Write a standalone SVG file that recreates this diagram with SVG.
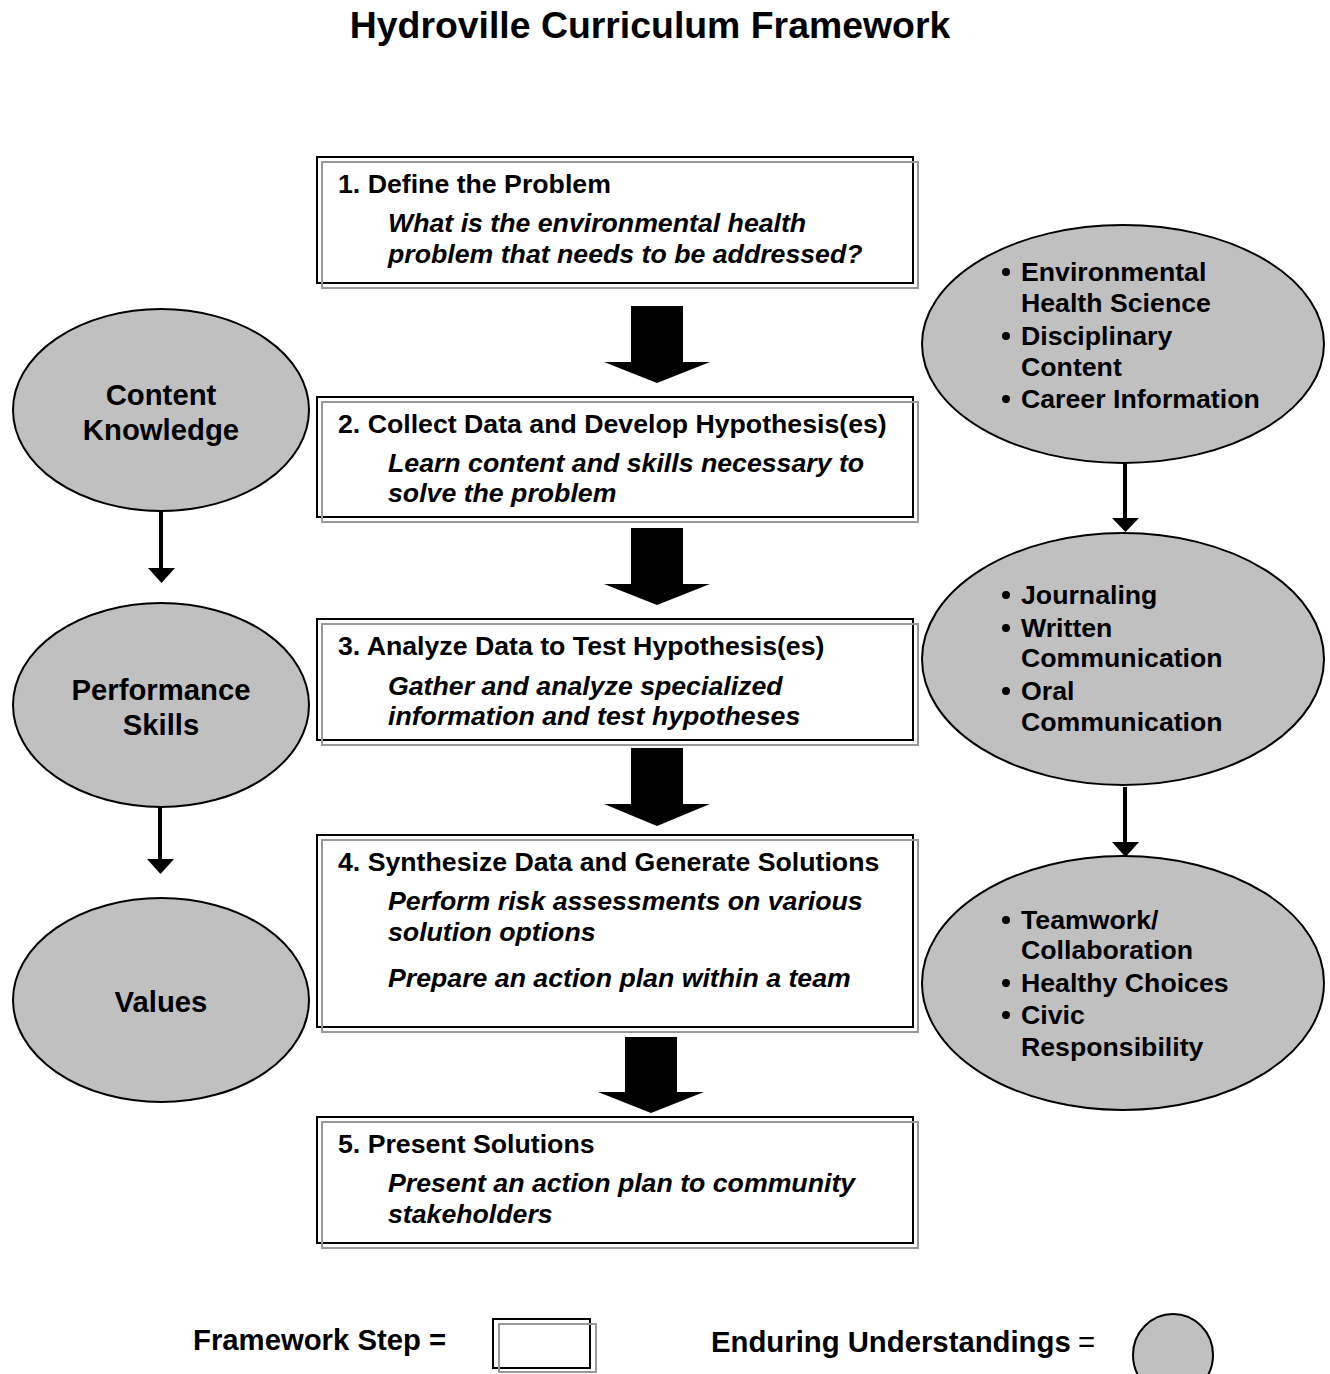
<svg xmlns="http://www.w3.org/2000/svg" width="1330" height="1374" viewBox="0 0 1330 1374">
<defs>
<style>
text{font-family:"Liberation Sans",Arial,sans-serif;fill:#000}
.title{font-size:37.4px;font-weight:bold}
.h{font-size:26.7px;font-weight:bold}
.l{font-size:29.3px;font-weight:bold}
.i{font-size:26.7px;font-weight:bold;font-style:italic}
.c{text-anchor:middle}
.box{fill:#fff;stroke:#000;stroke-width:2}
.sh{fill:none;stroke:#999;stroke-width:2}
.ell{fill:#c0c0c0;stroke:#000;stroke-width:2}
.ln{stroke:#000;stroke-width:4;fill:none}
.blk{fill:#000}
</style>
</defs>
<rect width="1330" height="1374" fill="#fff"/>
<text class="title c" x="650" y="38">Hydroville Curriculum Framework</text>

<g id="step1">
<rect class="box" x="317" y="157" width="596" height="126"/>
<rect class="sh" x="322" y="162" width="596" height="126"/>
<text class="h" x="338" y="193">1. Define the Problem</text>
<text class="i" x="388" y="232">What is the environmental health</text>
<text class="i" x="388" y="263">problem that needs to be addressed?</text>
</g>
<g id="step2">
<rect class="box" x="317" y="397" width="596" height="120"/>
<rect class="sh" x="322" y="402" width="596" height="120"/>
<text class="h" x="338" y="433">2. Collect Data and Develop Hypothesis(es)</text>
<text class="i" x="388" y="472">Learn content and skills necessary to</text>
<text class="i" x="388" y="502">solve the problem</text>
</g>
<g id="step3">
<rect class="box" x="317" y="619" width="596" height="121"/>
<rect class="sh" x="322" y="624" width="596" height="121"/>
<text class="h" x="338" y="655">3. Analyze Data to Test Hypothesis(es)</text>
<text class="i" x="388" y="695">Gather and analyze specialized</text>
<text class="i" x="388" y="725">information and test hypotheses</text>
</g>
<g id="step4">
<rect class="box" x="317" y="835" width="596" height="192"/>
<rect class="sh" x="322" y="840" width="596" height="192"/>
<text class="h" x="338" y="871">4. Synthesize Data and Generate Solutions</text>
<text class="i" x="388" y="910">Perform risk assessments on various</text>
<text class="i" x="388" y="941">solution options</text>
<text class="i" x="388" y="987">Prepare an action plan within a team</text>
</g>
<g id="step5">
<rect class="box" x="317" y="1117" width="596" height="126"/>
<rect class="sh" x="322" y="1122" width="596" height="126"/>
<text class="h" x="338" y="1153">5. Present Solutions</text>
<text class="i" x="388" y="1192">Present an action plan to community</text>
<text class="i" x="388" y="1223">stakeholders</text>
</g>

<g id="content-knowledge">
<ellipse class="ell" cx="161" cy="410" rx="148" ry="101"/>
<text class="l c" x="161" y="405">Content</text>
<text class="l c" x="161" y="440">Knowledge</text>
</g>
<g id="performance-skills">
<ellipse class="ell" cx="161" cy="705" rx="148" ry="102"/>
<text class="l c" x="161" y="700">Performance</text>
<text class="l c" x="161" y="735">Skills</text>
</g>
<g id="values">
<ellipse class="ell" cx="161" cy="1000" rx="148" ry="102"/>
<text class="l c" x="161" y="1012">Values</text>
</g>

<g id="content-list">
<ellipse class="ell" cx="1123" cy="344" rx="201" ry="119"/>
<circle class="blk" cx="1006" cy="272" r="4"/>
<circle class="blk" cx="1006" cy="336" r="4"/>
<circle class="blk" cx="1006" cy="399" r="4"/>
<text class="h" x="1021" y="281">Environmental</text>
<text class="h" x="1021" y="312">Health Science</text>
<text class="h" x="1021" y="345">Disciplinary</text>
<text class="h" x="1021" y="376">Content</text>
<text class="h" x="1021" y="408">Career Information</text>
</g>
<g id="skills-list">
<ellipse class="ell" cx="1123" cy="659" rx="201" ry="126"/>
<circle class="blk" cx="1006" cy="595" r="4"/>
<circle class="blk" cx="1006" cy="628" r="4"/>
<circle class="blk" cx="1006" cy="691" r="4"/>
<text class="h" x="1021" y="604">Journaling</text>
<text class="h" x="1021" y="637">Written</text>
<text class="h" x="1021" y="667">Communication</text>
<text class="h" x="1021" y="700">Oral</text>
<text class="h" x="1021" y="731">Communication</text>
</g>
<g id="values-list">
<ellipse class="ell" cx="1123" cy="983" rx="201" ry="127"/>
<circle class="blk" cx="1006" cy="920" r="4"/>
<circle class="blk" cx="1006" cy="983" r="4"/>
<circle class="blk" cx="1006" cy="1015" r="4"/>
<text class="h" x="1021" y="929">Teamwork/</text>
<text class="h" x="1021" y="959">Collaboration</text>
<text class="h" x="1021" y="992">Healthy Choices</text>
<text class="h" x="1021" y="1024">Civic</text>
<text class="h" x="1021" y="1056">Responsibility</text>
</g>

<g id="connectors">
<path class="blk" d="M631,306 H683 V362 H710 L657,383 L604,362 H631 Z"/>
<path class="blk" d="M631,528 H683 V584 H710 L657,605 L604,584 H631 Z"/>
<path class="blk" d="M631,748 H683 V804 H710 L657,826 L604,804 H631 Z"/>
<path class="blk" d="M625,1037 H677 V1092 H704 L651,1113 L598,1092 H625 Z"/>
<line class="ln" x1="161" y1="511" x2="161" y2="568"/>
<path class="blk" d="M148,568 H175 L161.5,583 Z"/>
<line class="ln" x1="160" y1="807" x2="160" y2="859"/>
<path class="blk" d="M147,859 H174 L160.5,874 Z"/>
<line class="ln" x1="1125" y1="463" x2="1125" y2="518"/>
<path class="blk" d="M1112,518 H1139 L1125.5,532 Z"/>
<line class="ln" x1="1125" y1="787" x2="1125" y2="842"/>
<path class="blk" d="M1112,842 H1139 L1125.5,857 Z"/>
</g>

<g id="legend">
<text class="l" x="193" y="1350">Framework Step =</text>
<rect class="box" x="493" y="1319" width="97" height="49"/>
<rect class="sh" x="499" y="1324" width="97" height="48"/>
<text class="l" x="711" y="1352">Enduring Understandings</text>
<text style="font-size:29.3px" x="1078" y="1352">=</text>
<ellipse class="ell" cx="1173" cy="1355" rx="40" ry="41"/>
</g>
</svg>
